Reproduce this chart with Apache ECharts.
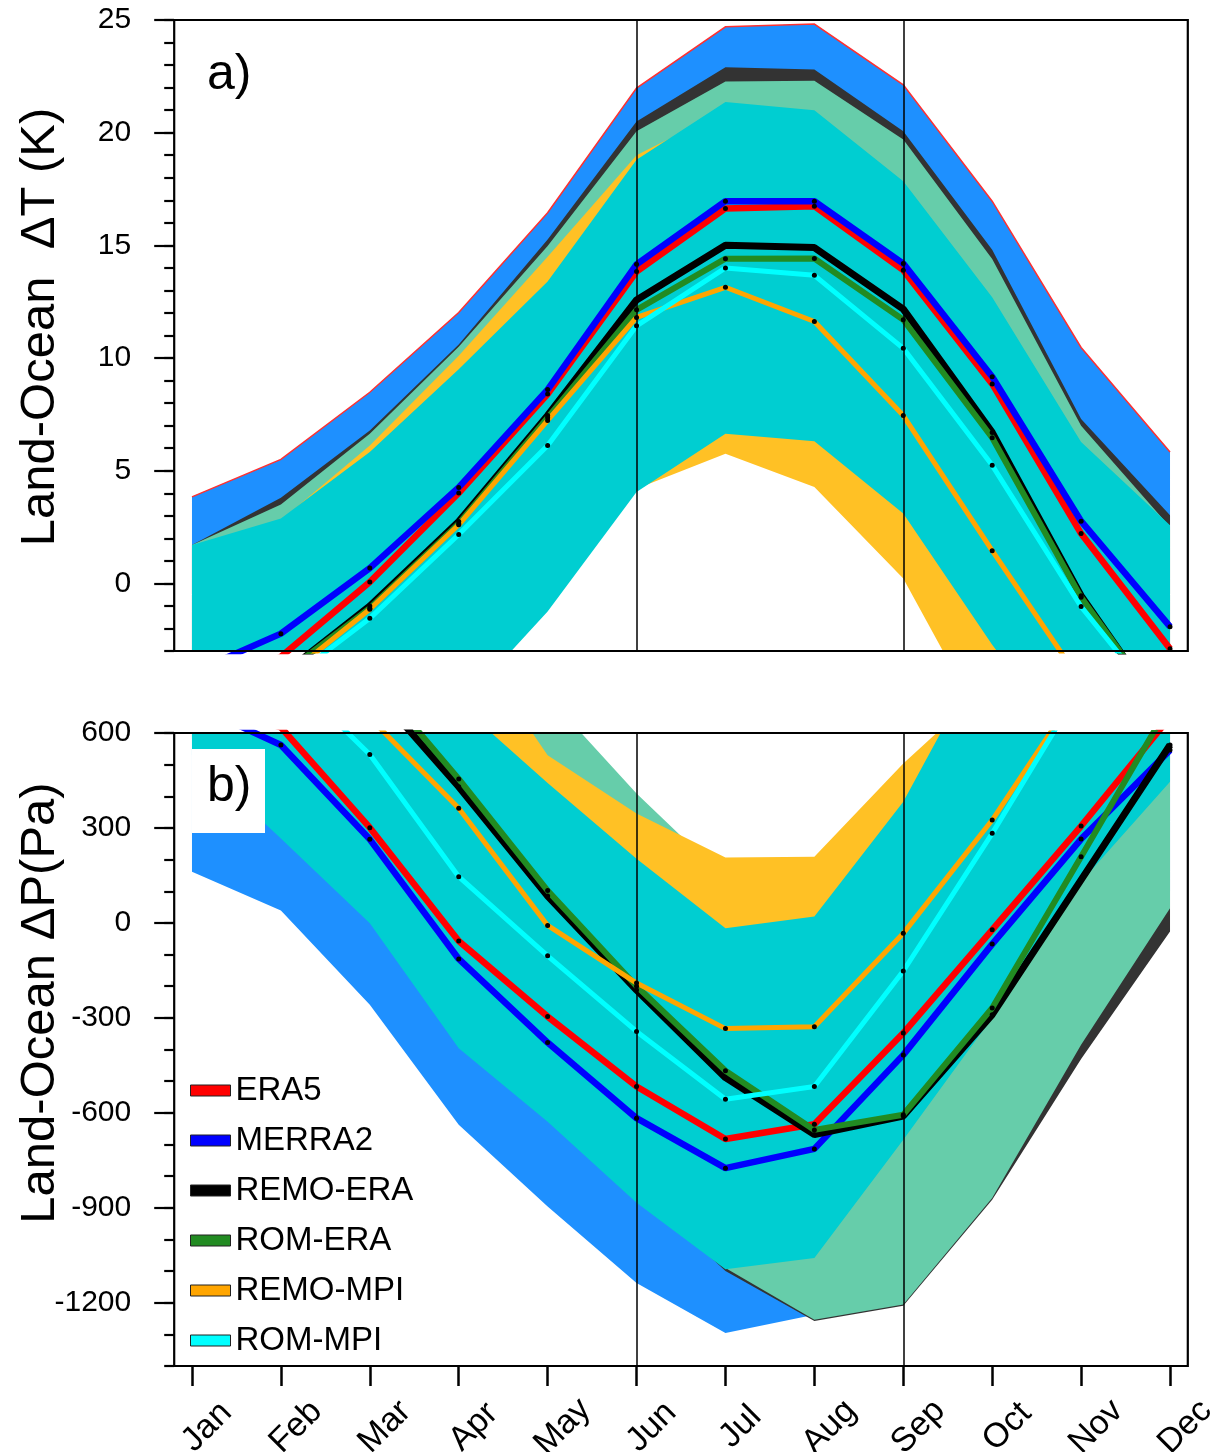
<!DOCTYPE html>
<html>
<head>
<meta charset="utf-8">
<script src="https://cdn.jsdelivr.net/npm/echarts@6/dist/echarts.min.js"></script>
<style>
  html, body { margin: 0; padding: 0; background: #fff; }
  #chart { width: 1217px; height: 1452px; }
</style>
</head>
<body>
<div id="chart"></div>
<script>
// months on the x axis
const months = ['Jan', 'Feb', 'Mar', 'Apr', 'May', 'Jun', 'Jul', 'Aug', 'Sep', 'Oct', 'Nov', 'Dec'];
const monthIdx = [0, 1, 2, 3, 4, 5, 6, 7, 8, 9, 10, 11];

// ---- panel a) land-ocean temperature contrast (K) ----
const dtTicks = [0, 5, 10, 15, 20, 25];
const dtERA5    = [-5.0, -3.26, 0.06, 4.01, 8.4, 13.84, 16.64, 16.74, 13.9, 8.85, 2.21, -2.9];
const dtMERRA2  = [-3.97, -2.23, 0.68, 4.26, 8.6, 14.16, 16.96, 16.96, 14.19, 9.17, 2.76, -1.92];
const dtREMOERA = [-6.0, -4.1, -1.0, 2.75, 7.45, 12.58, 15.0, 14.9, 12.17, 6.7, -0.55, -6.2];
const dtROMERA  = [-6.0, -4.1, -1.1, 2.65, 7.35, 12.14, 14.41, 14.42, 11.7, 6.46, -0.62, -6.1];
const dtREMOMPI = [-6.3, -4.32, -1.15, 2.6, 7.23, 11.8, 13.14, 11.62, 7.45, 1.45, -4.37, -9.0];
const dtROMMPI  = [-6.5, -4.55, -1.55, 2.17, 6.12, 11.43, 14.0, 13.67, 10.43, 5.24, -1.03, -5.93];

// spread bands (upper / lower)
const dtBlueUp = [3.84, 5.5, 8.48, 12.02, 16.45, 21.98, 24.7, 24.82, 22.12, 16.96, 10.47, 5.83];
const dtBlueLo = [-7, -7, -5, -4.5, -0.5, 4.6, 7.2, 6.9, 3.6, -2.2, -7, -9];
const dtGrayUp = [1.7, 3.8, 6.78, 10.6, 15.26, 20.5, 22.9, 22.8, 20.06, 14.8, 7.3, 3.02];
const dtGrayLo = [-7, -7, -5, -4.5, -0.5, 4.6, 7.2, 6.9, 3.6, -2.2, -7, -9];
const dtAquaUp = [1.7, 3.5, 6.64, 10.5, 14.97, 20.06, 22.27, 22.3, 19.7, 14.4, 7.0, 2.5];
const dtAquaLo = [-7, -7, -5, -4.5, -0.5, 4.6, 7.2, 6.9, 3.6, -2.2, -7, -9];
const dtGoldUp = [1.6, 2.8, 6.12, 10.1, 14.5, 19.0, 21.0, 20.5, 17.5, 12.0, 6.0, 2.4];
const dtGoldLo = [-7.5, -7.5, -5.5, -5, -0.8, 4.2, 5.75, 4.28, 0.22, -7, -10, -10];
const dtTurqUp = [1.7, 2.88, 5.83, 9.5, 13.4, 18.8, 21.36, 21.0, 17.85, 12.7, 6.27, 2.58];
const dtTurqLo = [-8, -8, -6, -5.54, -1.25, 4.06, 6.64, 6.31, 3.1, -2.72, -8, -10];

// ---- panel b) land-ocean pressure contrast (Pa) ----
const dpTicks = [-1200, -900, -600, -300, 0, 300, 600];
const dpERA5    = [700, 618, 301, -57, -296, -517, -683, -636, -348, -22, 306, 650];
const dpMERRA2  = [692, 562, 264, -114, -378, -617, -775, -714, -417, -67, 265, 546];
const dpREMOERA = [950, 850, 750, 430, 85, -212, -489, -669, -610, -290, 136, 562];
const dpROMERA  = [950, 880, 786, 455, 102, -200, -467, -654, -606, -269, 209, 692];
const dpREMOMPI = [850, 750, 648, 362, -8, -190, -334, -328, -33, 325, 747, 1000];
const dpROMMPI  = [1000, 807, 532, 146, -104, -343, -557, -517, -152, 283, 746, 1000];

const dpBlueUp = [880, 880, 830, 670, 420, 180, -40, 0, 360, 880, 980, 980];
const dpBlueLo = [162, 39, -259, -638, -896, -1138, -1296, -1238, -1100, -700, -300, 100];
const dpGrayUp = [880, 880, 830, 670, 420, 180, -40, 0, 360, 880, 980, 980];
const dpGrayLo = [580, 320, 50, -350, -580, -840, -1100, -1258, -1210, -875, -430, -27];
const dpAquaUp = [800, 800, 800, 800, 716, 409, 140, 140, 400, 900, 1000, 1000];
const dpAquaLo = [590, 330, 60, -340, -570, -830, -1090, -1254, -1206, -869, -385, 46];
const dpGoldUp = [950, 950, 950, 940, 530, 346, 207, 209, 504, 760, 1000, 1000];
const dpGoldLo = [600, 330, 60, -340, -570, -830, -1040, -1000, -630, -240, 190, 500];
const dpTurqUp = [900, 900, 850, 692, 442, 203, -17, 20, 383, 900, 1000, 1000];
const dpTurqLo = [530, 267, -1, -396, -628, -884, -1094, -1059, -685, -300, 130, 446];

const names = ['ERA5', 'MERRA2', 'REMO-ERA', 'ROM-ERA', 'REMO-MPI', 'ROM-MPI'];
const colors = ['#ff0000', '#0000ff', '#000000', '#228b22', '#ffa500', '#00ffff'];
const widths = [6.5, 6.5, 7, 6, 5, 5];

const FONT = '"Liberation Sans", Arial, Helvetica, sans-serif';

// layout
const L = 174.2, W = 1013.6;
const T1 = 20, H1 = 631;
const T2 = 733, H2 = 633;

const chart = echarts.init(document.getElementById('chart'));

function band(ax, yIdx, lower, upper, color, edge) {
    return {
        type: 'custom',
        xAxisIndex: ax,
        yAxisIndex: yIdx,
        clip: true,
        silent: true,
        z: 1,
        data: [[0, 0]],
        renderItem: function (params, api) {
            const pts = [];
            for (let i = 0; i < upper.length; i++) pts.push(api.coord([monthIdx[i], upper[i]]));
            for (let i = lower.length - 1; i >= 0; i--) pts.push(api.coord([monthIdx[i], lower[i]]));
            const children = [{ type: 'polygon', shape: { points: pts }, style: { fill: color } }];
            if (edge) {
                children.push({
                    type: 'polyline',
                    shape: { points: pts.slice(0, upper.length) },
                    style: { stroke: edge, lineWidth: 1.5, fill: null }
                });
            }
            return { type: 'group', children: children };
        }
    };
}

function lines(ax, yIdx, sets) {
    return sets.map(function (vals, k) {
        const s = {
            name: names[k],
            type: 'line',
            xAxisIndex: ax,
            yAxisIndex: yIdx,
            z: 3,
            silent: true,
            data: vals.map(function (v, i) { return [monthIdx[i], v]; }),
            symbol: 'circle',
            symbolSize: 5,
            itemStyle: { color: '#000' },
            lineStyle: { color: colors[k], width: widths[k] }
        };
        if (k === 0) {
            s.markLine = {
                silent: true,
                symbol: ['none', 'none'],
                label: { show: false },
                lineStyle: { color: '#000', width: 1.5, type: 'solid' },
                data: [{ xAxis: 5 }, { xAxis: 8 }]
            };
        }
        return s;
    });
}

function yAxes(grid, min, max, major, minor) {
    return [{
        gridIndex: grid, type: 'value', min: min, max: max, position: 'left',
        axisLine: { show: false, onZero: false },
        axisTick: { customValues: major, length: 20, lineStyle: { color: '#000', width: 2.2 } },
        axisLabel: { customValues: major, margin: 43, fontSize: 30, color: '#000', fontFamily: FONT,
                     formatter: function (v) { return String(v); } },
        splitLine: { show: false }
    }, {
        gridIndex: grid, type: 'value', min: min, max: max, position: 'left', offset: 0,
        axisLine: { show: false, onZero: false },
        axisTick: { customValues: minor, length: 10, lineStyle: { color: '#000', width: 2.2 } },
        axisLabel: { show: false },
        splitLine: { show: false }
    }];
}

const dtMinor = [];
for (let v = -3; v <= 25; v++) dtMinor.push(v);
const dpMinor = [];
for (let v = -1400; v <= 600; v += 100) dpMinor.push(v);

const option = {
    animation: false,
    backgroundColor: '#fff',
    grid: [
        { left: L, top: T1, width: W, height: H1, outerBoundsMode: 'none', containLabel: false },
        { left: L, top: T2, width: W, height: H2, outerBoundsMode: 'none', containLabel: false }
    ],
    xAxis: [{
        gridIndex: 0, type: 'value', min: -0.2, max: 11.2, position: 'bottom',
        axisLine: { show: false, onZero: false }, axisTick: { show: false }, axisLabel: { show: false },
        splitLine: { show: false }
    }, {
        gridIndex: 1, type: 'value', min: -0.2, max: 11.2, position: 'bottom',
        axisLine: { show: false, onZero: false },
        axisTick: { customValues: monthIdx, length: 20, lineStyle: { color: '#000', width: 2.5 } },
        axisLabel: {
            customValues: monthIdx.map(function (i) { return i + 0.17; }),
            formatter: function (v) { return months[Math.round(v)]; },
            rotate: 45, align: 'center', verticalAlign: 'middle', margin: 61,
            fontSize: 34, color: '#000', fontFamily: FONT
        },
        splitLine: { show: false }
    }],
    yAxis: yAxes(0, -3, 25, dtTicks, dtMinor).concat(yAxes(1, -1400, 600, dpTicks, dpMinor)),
    legend: {
        data: names.map(function (n, k) {
            return { name: n, itemStyle: { color: colors[k], borderColor: '#222', borderWidth: 1 } };
        }),
        orient: 'vertical', left: 185, top: 1069,
        icon: 'rect', itemWidth: 40, itemHeight: 11, itemGap: 17,
        selectedMode: false,
        textStyle: { fontSize: 33, color: '#000', fontFamily: FONT }
    },
    graphic: [
        { type: 'rect', z: 100, silent: true, shape: { x: L, y: T1, width: W, height: H1 },
          style: { fill: 'transparent', stroke: '#000', lineWidth: 2.2 } },
        { type: 'rect', z: 100, silent: true, shape: { x: L, y: T2, width: W, height: H2 },
          style: { fill: 'transparent', stroke: '#000', lineWidth: 2.2 } },
        { type: 'text', z: 100, silent: true, left: 207, top: 50,
          style: { text: 'a)', fontSize: 50, fill: '#000', fontFamily: FONT } },
        { type: 'rect', z: 90, silent: true, shape: { x: 192, y: 749, width: 73, height: 84 },
          style: { fill: '#fff' } },
        { type: 'text', z: 100, silent: true, left: 207, top: 762,
          style: { text: 'b)', fontSize: 50, fill: '#000', fontFamily: FONT } },
        { type: 'text', z: 100, silent: true, x: 40, y: 327, rotation: Math.PI / 2,
          style: { text: 'Land-Ocean  \u0394T (K)', fontSize: 49, fill: '#000', fontFamily: FONT,
                   align: 'center', verticalAlign: 'middle' } },
        { type: 'text', z: 100, silent: true, x: 40, y: 1003, rotation: Math.PI / 2,
          style: { text: 'Land-Ocean \u0394P(Pa)', fontSize: 49, fill: '#000', fontFamily: FONT,
                   align: 'center', verticalAlign: 'middle' } }
    ],
    series: [
        band(0, 0, dtBlueLo, dtBlueUp, '#1e90ff', '#ff3030'),
        band(0, 0, dtGrayLo, dtGrayUp, '#333333'),
        band(0, 0, dtAquaLo, dtAquaUp, '#66cdaa'),
        band(0, 0, dtGoldLo, dtGoldUp, '#ffc125'),
        band(0, 0, dtTurqLo, dtTurqUp, '#00ced1')
    ].concat(lines(0, 0, [dtERA5, dtMERRA2, dtREMOERA, dtROMERA, dtREMOMPI, dtROMMPI]))
     .concat([
        band(1, 2, dpBlueLo, dpBlueUp, '#1e90ff'),
        band(1, 2, dpGrayLo, dpGrayUp, '#333333'),
        band(1, 2, dpAquaLo, dpAquaUp, '#66cdaa'),
        band(1, 2, dpGoldLo, dpGoldUp, '#ffc125'),
        band(1, 2, dpTurqLo, dpTurqUp, '#00ced1')
    ]).concat(lines(1, 2, [dpERA5, dpMERRA2, dpREMOERA, dpROMERA, dpREMOMPI, dpROMMPI]))
};

chart.setOption(option);
</script>
</body>
</html>
